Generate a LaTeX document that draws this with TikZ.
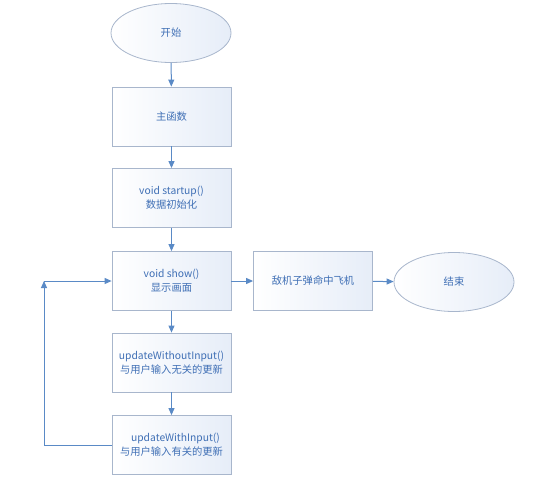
\documentclass[tikz,border=0pt]{standalone}
\usepackage{fontspec}
\setmainfont{Noto Sans CJK SC}
\usetikzlibrary{arrows.meta,shapes.geometric}
\definecolor{txt}{HTML}{3F6FB5}
\definecolor{bord}{HTML}{A8B6CC}
\definecolor{arr}{HTML}{5A8AC6}
\definecolor{fillb}{HTML}{E6EDF8}
\begin{document}
\begin{tikzpicture}[x=1pt,y=-1pt,
  box/.style={draw=bord,line width=0.8pt,minimum width=119pt,minimum height=59pt,
    left color=white,right color=fillb,text=txt,font=\fontsize{10.3}{14}\selectfont,align=center,inner sep=1pt},
  oval/.style={ellipse,draw=bord,line width=0.8pt,minimum width=120pt,minimum height=59pt,
    left color=white,right color=fillb,text=txt,font=\fontsize{10.3}{14}\selectfont,inner sep=1pt},
  conn/.style={draw=arr,line width=1pt,-{Triangle[length=7pt,width=6pt]}}]
\useasboundingbox (0,0) rectangle (554,482);
\node[oval] (start) at (171,33) {开始};
\node[box] (main) at (171.5,116.5) {主函数};
\node[box] (init) at (171.5,198) {void startup()\\数据初始化};
\node[box] (show) at (171.5,281) {void show()\\显示画面};
\node[box] (hit) at (313,281) {敌机子弹命中飞机};
\node[oval] (end) at (454,282) {结束};
\node[box] (uwo) at (171.5,362.5) {updateWithoutInput()\\与用户输入无关的更新};
\node[box] (uwi) at (171.5,445) {\hspace*{8pt}updateWithInput()\\与用户输入有关的更新};
\coordinate (c1) at (44,445);
\coordinate (c2) at (44,281);
\draw[conn] (start) -- (main);
\draw[conn] (main) -- (init);
\draw[conn] (init) -- (show);
\draw[conn] (show) -- (uwo);
\draw[conn] (uwo) -- (uwi);
\draw[conn] (show) -- (hit);
\draw[conn] (hit) -- (end);
\draw[conn] (uwi.west) -- (c1) -- (c2);
\draw[conn] (c2) -- (show.west);
\end{tikzpicture}
\end{document}
